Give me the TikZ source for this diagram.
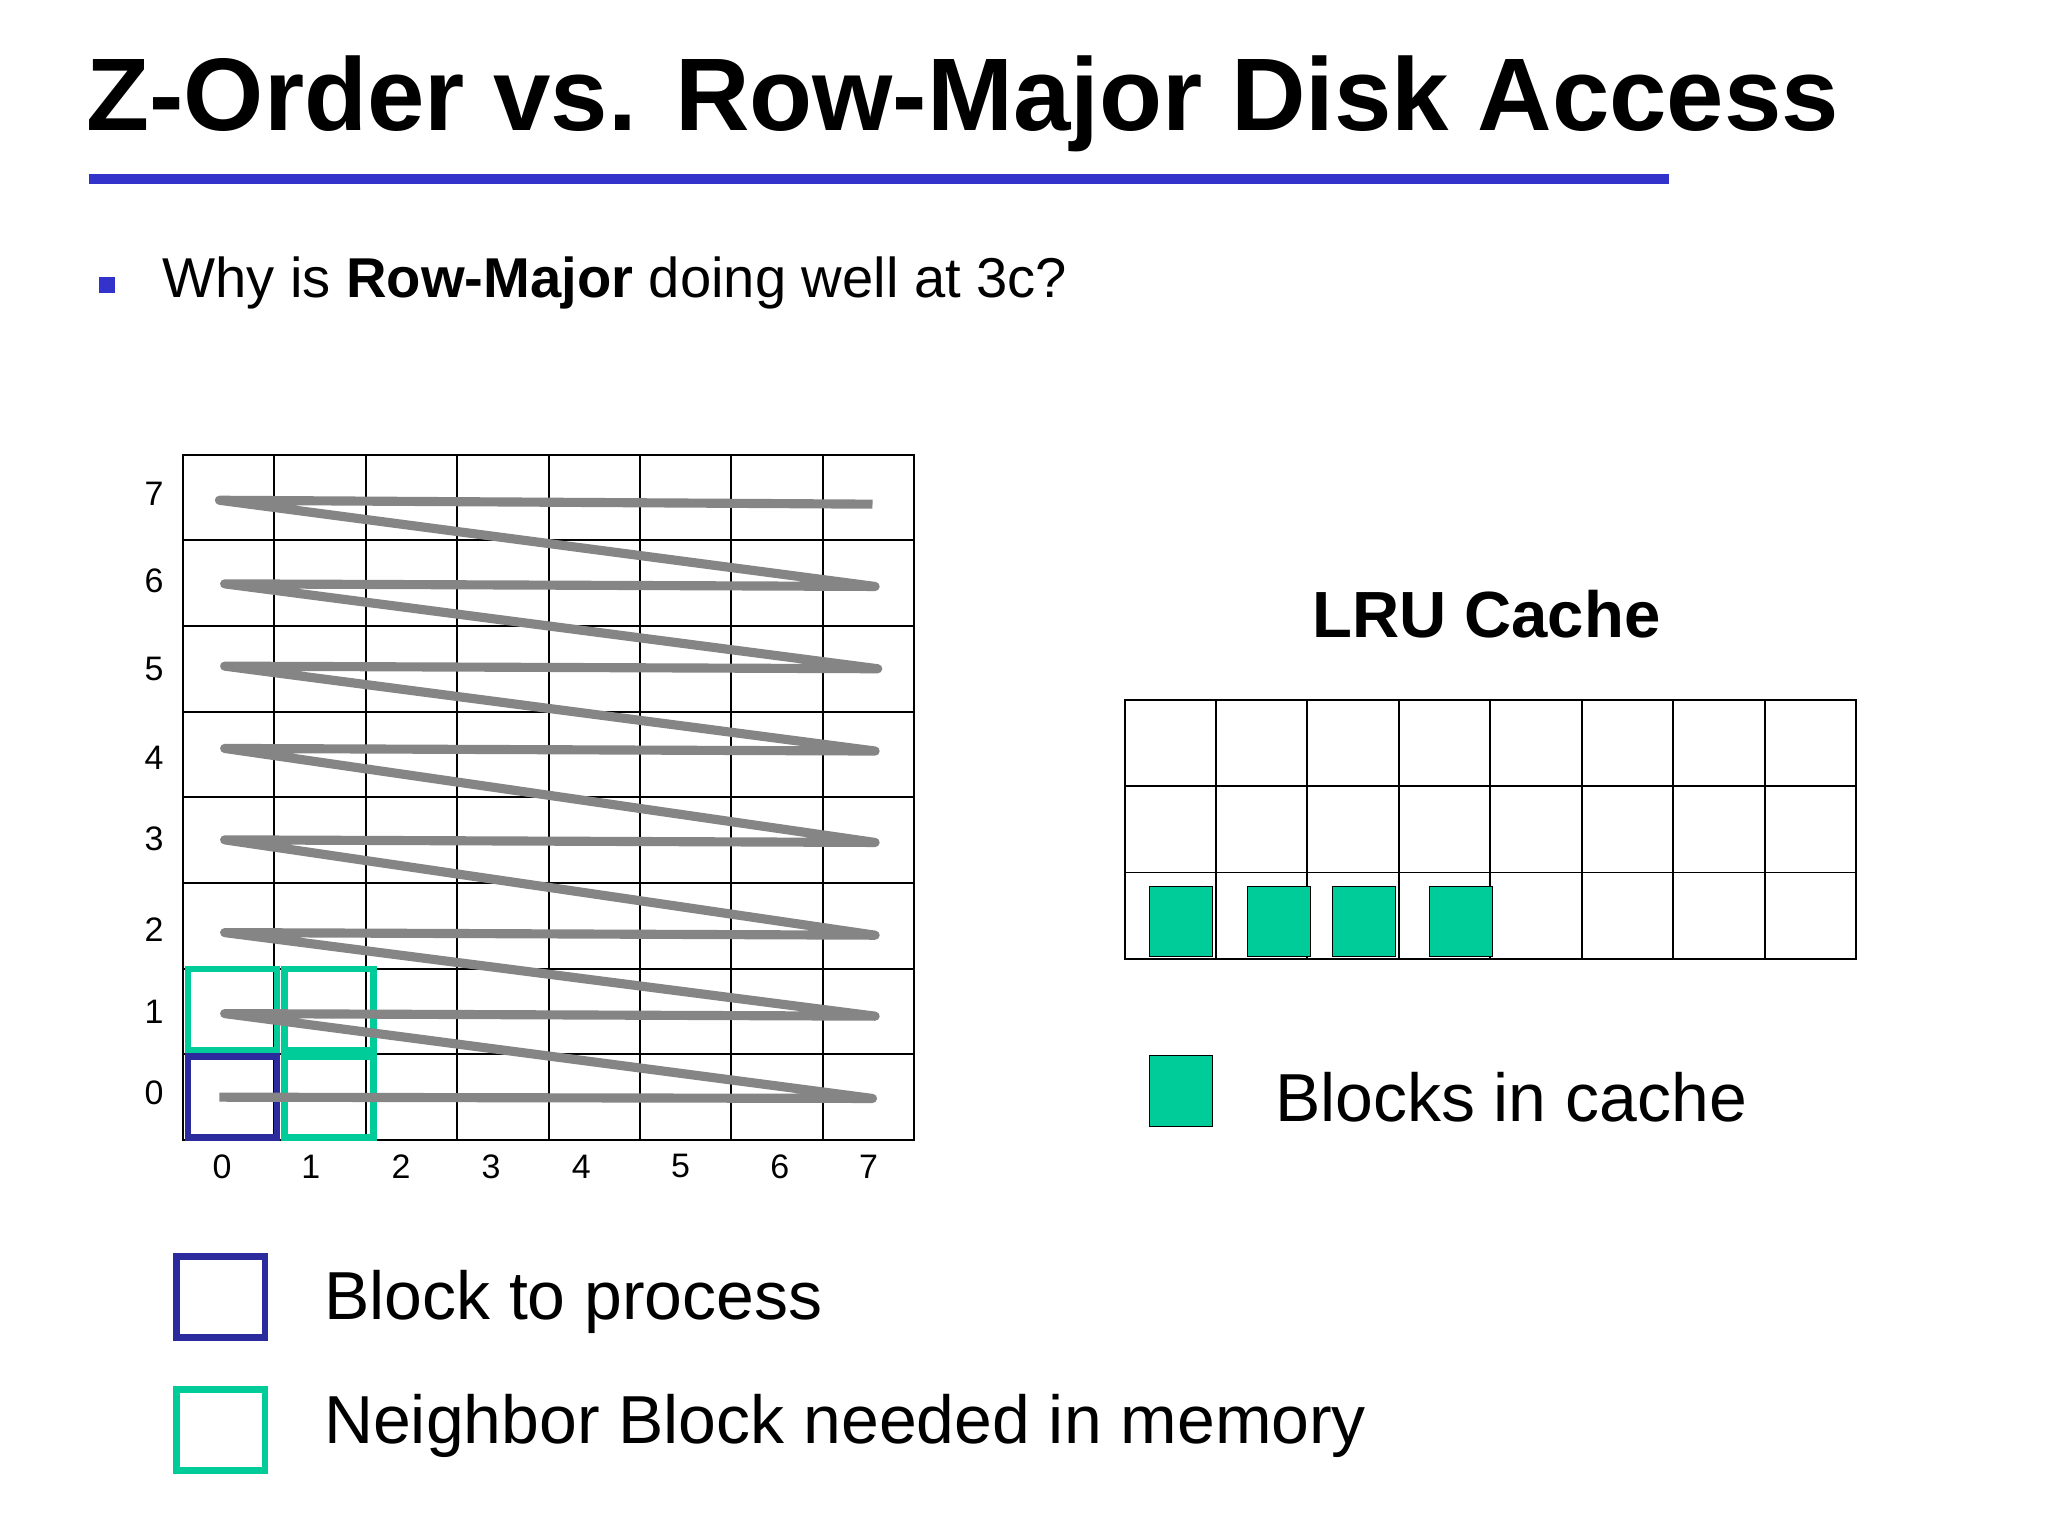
\documentclass[tikz,border=0pt]{standalone}
\usepackage{fontspec}
\setmainfont{Liberation Sans}
\usetikzlibrary{positioning}
\definecolor{titleblue}{HTML}{3333CC}
\definecolor{procblue}{HTML}{2B2B9E}
\definecolor{cachegreen}{HTML}{00CC99}
\definecolor{zzgray}{HTML}{858585}
\begin{document}
\begin{tikzpicture}[x=1pt, y=-1pt]
\tikzstyle{lbl}=[font=\fontsize{26}{28}\selectfont, inner sep=0pt]
\tikzstyle{legtext}=[font=\fontsize{52}{58}\selectfont, anchor=west, inner sep=0pt]
\tikzstyle{cached}=[draw=black, fill=cachegreen, minimum width=48pt, minimum height=54pt, inner sep=0pt, anchor=north west]
\tikzstyle{proc}=[draw=procblue, line width=5pt, minimum width=68pt, minimum height=62pt, inner sep=0pt]
\tikzstyle{neigh}=[proc, draw=cachegreen]

\useasboundingbox (0,0) rectangle (1568,1176);
\fill[white] (0,0) rectangle (1568,1176);

% title
\node[anchor=base west, inner sep=0pt, font=\fontsize{79}{82}\bfseries\selectfont] (title) at (66,100) {Z-Order vs. Row-Major Disk Access};
\draw[titleblue, line width=7pt] (68,137) -- (1278,137);
\node[fill=titleblue, minimum size=12pt, inner sep=0pt] (bullet) at (82,218) {};
\node[anchor=base west, inner sep=0pt, font=\fontsize{43}{48}\selectfont] (why) at (124,228) {Why is \textbf{Row-Major} doing well at 3c?};

% block grid
\draw[line width=1.5pt] (140,348) rectangle (700,873);
\foreach \i in {1,...,7} {
  \draw[line width=1.5pt] (140+70*\i,348) -- (140+70*\i,873);
  \draw[line width=1.5pt] (140,348+65.6*\i) -- (700,348+65.6*\i);
}
\foreach \r/\y in {7/378,6/445,5/512,4/580,3/642,2/712,1/775,0/837}
  \node[lbl] (row\r) at (118,\y) {\r};
\foreach \c/\x in {0/170,1/238,2/307,3/376,4/445,5/521,6/597,7/665}
  \node[lbl] (col\c) at (\x,893) {\c};

% neighbourhood
\node[neigh] (b10) at (252,840) {};
\node[neigh] (b01) at (178,773) {};
\node[neigh] (b11) at (252,773) {};
\node[proc] (b00) at (178,840) {};

% row-major traversal
\draw[zzgray, line width=7pt, line join=round]
  (168,840) -- (668,841) -- (172,776) -- (670,778) -- (172,714) -- (670,716)
  -- (172,643) -- (670,645) -- (172,573) -- (670,575) -- (172,510) -- (672,512)
  -- (172,447) -- (670,449) -- (168,383) -- (668,386);

% LRU cache
\node[font=\fontsize{50}{54}\bfseries\selectfont] (lru) at (1138,470) {LRU Cache};
\draw[line width=1.5pt] (861,536) rectangle (1421,734);
\foreach \i in {1,...,7}
  \draw[line width=1.5pt] (861+70*\i,536) -- (861+70*\i,734);
\foreach \j in {1,2}
  \draw[line width=1.5pt] (861,536+66*\j) -- (1421,536+66*\j);
\node[cached] (c1) at (880,678) {};
\node[cached] (c2) at (955,678) {};
\node[cached] (c3) at (1020,678) {};
\node[cached] (c4) at (1094,678) {};

% legends
\node[cached] (legcache) at (880,808) {};
\node[legtext] (legcachetext) at (976,840) {Blocks in cache};
\node[proc] (legproc) at (169,993) {};
\node[legtext] (legproctext) at (248,997) {Block to process};
\node[neigh] (legneigh) at (169,1095) {};
\node[legtext] (legneightext) at (248,1092) {Neighbor Block needed in memory};
\end{tikzpicture}
\end{document}
